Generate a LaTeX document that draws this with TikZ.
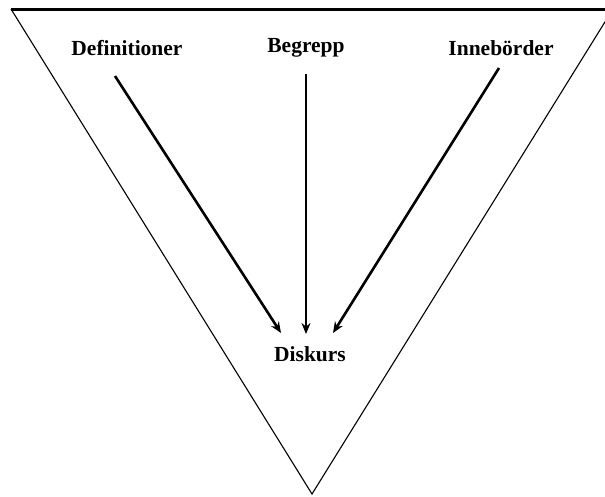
\documentclass[tikz,border=0pt]{standalone}
\usepackage{fontspec}
\setmainfont{Liberation Serif}
\usetikzlibrary{arrows.meta}
\tikzset{
  term/.style={font=\fontsize{21.5}{24}\selectfont\bfseries, inner sep=0pt},
  pil/.style={-{Stealth[length=11pt,width=9pt]}, line width=2.6pt}
}
\begin{document}
\begin{tikzpicture}[x=1pt,y=-1pt]
  \useasboundingbox (0,0) rectangle (605,496);
  \clip (0,0) rectangle (605,496);
  % funnel
  \coordinate (tl) at (11,9);
  \coordinate (tr) at (613,9);
  \coordinate (apex) at (312,494);
  \draw[line width=1.1pt] (tl) -- (apex) -- (tr);
  \draw[line width=3pt] (tl) -- (tr);
  % terms
  \node[term] (def) at (127,48) {Definitioner};
  \node[term] (beg) at (306,48) {Begrepp};
  \node[term] (inn) at (501,48) {Innebörder};
  \node[term] (disk) at (310,354) {Diskurs};
  \coordinate (def1) at (115,76);
  \coordinate (def2) at (281,333);
  \coordinate (beg1) at (306,74);
  \coordinate (beg2) at (306,334);
  \coordinate (inn1) at (499,68);
  \coordinate (inn2) at (333,333);
  \begin{scope}[pil]
    \draw (def1) -- (def2);
    \draw (beg1) -- (beg2);
    \draw (inn1) -- (inn2);
  \end{scope}
\end{tikzpicture}
\end{document}
